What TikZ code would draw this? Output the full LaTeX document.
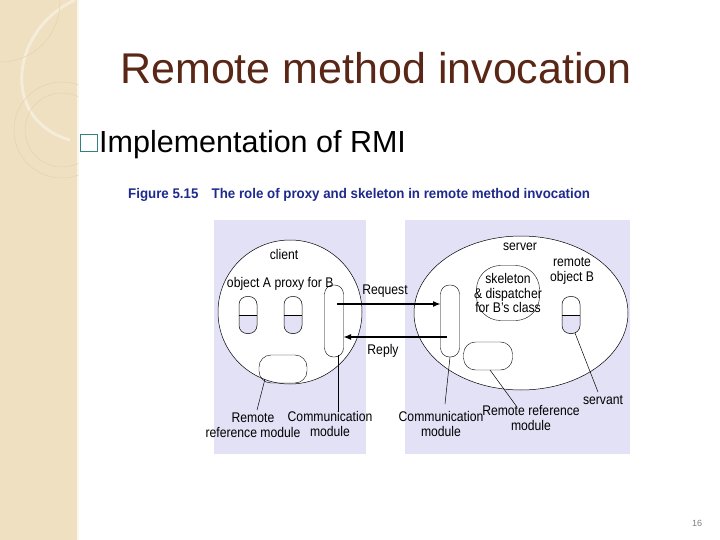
\documentclass[tikz,border=0pt]{standalone}
\usepackage{fontspec}
\setmainfont{Liberation Sans}
\usetikzlibrary{arrows.meta}
\definecolor{lav}{HTML}{E2E1F6}
\definecolor{beige}{HTML}{EEE0C0}
\definecolor{ttl}{HTML}{5A2615}
\definecolor{capblue}{HTML}{1E2A8C}
\tikzset{
 capsule/.style={draw,rounded corners=8pt,minimum width=18pt,minimum height=37pt,inner sep=0,line width=0.5pt},
 lbl/.style={font=\fontsize{14}{14.5}\selectfont,xscale=0.87,transform shape,align=center,inner sep=0},
 lead/.style={line width=0.5pt},
 msg/.style={line width=1.6pt,-{Latex[length=8pt,width=6pt]}}
}
\begin{document}
\begin{tikzpicture}[x=1pt,y=-1pt]
\useasboundingbox (0,0) rectangle (720,540);
\fill[white] (0,0) rectangle (720,540);
% sidebar
\fill[beige] (0,0) rectangle (78,540);
\draw[white!70!beige,line width=1.2pt] (78,0)--(78,540);
\begin{scope}
\clip (0,0) rectangle (78,540);
\draw[white!40!beige,line width=3pt] (75,0) .. controls (10,30) and (0,120) .. (70,140);
\draw[beige!85!brown,line width=0.5pt] (60,0) .. controls (60,40) and (30,62) .. (0,62);
\draw[beige!85!brown,line width=0.5pt] (62,130) circle (48);
\draw[beige!85!brown,line width=0.5pt] (62,130) circle (37);
\end{scope}
% titles
\node[ttl,font=\fontsize{43}{46}\selectfont] (title) at (376,68) {Remote method invocation};
\node[draw=teal!60!gray,line width=1.2pt,minimum size=17pt,inner sep=0] (bul) at (89,143) {};
\node[anchor=west,font=\fontsize{30.5}{32}\selectfont,inner sep=0] (sub) at (99,145) {Implementation of RMI};
\node[anchor=west,inner sep=0,font=\fontsize{14}{15}\selectfont\bfseries,xscale=0.95,transform shape,capblue] (cap) at (128,195) {Figure 5.15\quad The role of proxy and skeleton in remote method invocation};
\node[gray,font=\fontsize{9}{10}\selectfont] (pg) at (697,523) {16};
% panels
\fill[lav] (214,220) rectangle (366,454);
\fill[lav] (405,220) rectangle (630,454);
\draw[fill=white,line width=0.5pt] (290,312) ellipse (72 and 72);
\draw[fill=white,line width=0.5pt] (521,313) ellipse (107 and 77);
% capsules
\foreach \n/\x in {oa/248,pb/293,rb/571}{
 \begin{scope}
 \clip[rounded corners=8pt] (\x-9,296.5) rectangle (\x+9,333.5);
 \fill[lav] (\x-9,315) rectangle (\x+9,334);
 \end{scope}
 \node[capsule] (\n) at (\x,315) {};
 \draw (\x-9,315)--(\x+9,315);
}
\node[draw,rounded corners=9pt,minimum width=19pt,minimum height=72pt,inner sep=0] (cmL) at (334,321) {};
\node[draw,rounded corners=12pt,minimum width=48pt,minimum height=28pt,inner sep=0] (rrL) at (283,369) {};
\node[draw,rounded corners=9pt,minimum width=19pt,minimum height=72pt,inner sep=0] (cmR) at (450,321) {};
\node[draw,rounded corners=12pt,minimum width=49pt,minimum height=28pt,inner sep=0] (rrR) at (488,356) {};
\node[draw,rounded corners=24pt,minimum width=63pt,minimum height=55pt,inner sep=0] (sk) at (508,293) {};
\node[lbl] (sktxt) at (508,293) {skeleton\\\& dispatcher\\for B's class};
% labels
\node[lbl] (client) at (284,254) {client};
\node[lbl] (objA) at (249,284) {object A};
\node[lbl] (prox) at (304,284) {proxy for B};
\node[lbl] (rrLt) at (253,425) {Remote\\reference module};
\node[lbl] (cmLt) at (330,424) {Communication\\module};
\node[lbl] (server) at (520,247) {server};
\node[lbl] (robj) at (572,271) {remote\\object B};
\node[lbl] (cmRt) at (441,424) {Communication\\module};
\node[lbl] (rrRt) at (531,418) {Remote reference\\module};
\node[lbl] (serv) at (603,400) {servant};
\node[lbl] (req) at (385,291) {Request};
\node[lbl] (rep) at (383,351) {Reply};
% leaders
\draw[lead] (265,379) -- (257,410);
\draw[lead] (338,355) -- (338,412);
\draw[lead] (450,357) -- (445,404);
\draw[lead] (490,370) -- (517,407);
\draw[lead] (575,333) -- (598,392);
% messages
\coordinate (rqs) at (337,304); \coordinate (rqe) at (441,304);
\coordinate (rps) at (447,337); \coordinate (rpe) at (343,337);
\draw[msg] (rqs) -- (rqe);
\draw[msg] (rps) -- (rpe);
\end{tikzpicture}
\end{document}
